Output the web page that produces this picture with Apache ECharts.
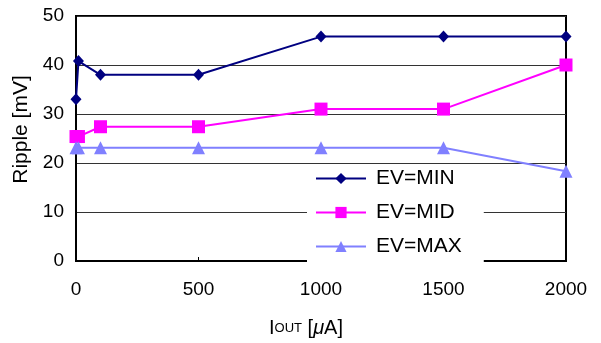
<!DOCTYPE html>
<html><head><meta charset="utf-8">
<script src="https://cdn.jsdelivr.net/npm/echarts@6/dist/echarts.min.js"></script>
<style>html,body{margin:0;padding:0;background:#fff}#c{width:601px;height:343px}</style>
</head><body><div id="c"></div>
<script>
const xValues = [0, 10, 100, 500, 1000, 1500, 2000];
const evMin = [33.0, 40.8, 38.0, 38.0, 45.8, 45.8, 45.8];
const evMid = [25.4, 25.4, 27.4, 27.4, 31.0, 31.0, 40.0];
const evMax = [23.1, 23.1, 23.1, 23.1, 23.1, 23.1, 18.3];
const seriesNames = ['EV=MIN', 'EV=MID', 'EV=MAX'];
const font = 'Liberation Sans, Arial, sans-serif';

const pair = arr => xValues.map((x, i) => [x, arr[i]]);
const chart = echarts.init(document.getElementById('c'));
chart.setOption({
  animation: false,
  backgroundColor: '#fff',
  grid: { left: 76, top: 16, right: 35, bottom: 76, show: true, borderColor: '#000', borderWidth: 2, backgroundColor: 'transparent' },
  xAxis: {
    type: 'value', min: 0, max: 2000, interval: 500,
    axisLine: { show: true, lineStyle: { color: '#000', width: 2 } },
    axisTick: { show: true, inside: true, length: 4, lineStyle: { color: '#000', width: 1 } },
    axisLabel: { color: '#000', fontSize: 19, fontFamily: font, margin: 19, formatter: v => String(v) },
    splitLine: { show: false },
    name: '{a|I}{b|OUT}{a| [}{c|μ}{a|A]}',
    nameLocation: 'middle', nameGap: 57,
    nameTextStyle: {
      padding: [0, 30, 0, 0],
      rich: {
        a: { fontSize: 20, fontFamily: font, color: '#000' },
        b: { fontSize: 13, fontFamily: font, color: '#000' },
        c: { fontSize: 20, fontFamily: font, color: '#000', fontStyle: 'italic' }
      }
    }
  },
  yAxis: {
    type: 'value', min: 0, max: 50, interval: 10,
    axisLine: { show: true, lineStyle: { color: '#000', width: 2 } },
    axisTick: { show: false },
    axisLabel: { color: '#000', fontSize: 19, fontFamily: font, margin: 12 },
    splitLine: { show: true, lineStyle: { color: '#333', width: 1 } },
    name: 'Ripple [mV]', nameLocation: 'middle', nameGap: 43,
    nameTextStyle: { color: '#000', fontSize: 21, fontFamily: font, padding: [0, 0, 0, 18] }
  },
  legend: {
    orient: 'vertical', left: 307, top: 165,
    backgroundColor: '#fff', padding: [3, 22, 5, 8],
    itemWidth: 50, itemHeight: 14, itemGap: 13,
    textStyle: { color: '#000', fontSize: 21, fontFamily: font, lineHeight: 20, padding: [0, 0, 0, 5] },
    data: seriesNames
  },
  series: [
    { name: seriesNames[0], type: 'line', data: pair(evMin), color: '#000080', symbol: 'diamond', symbolSize: [11, 12], lineStyle: { width: 2 }, itemStyle: { color: '#000080' } },
    { name: seriesNames[1], type: 'line', data: pair(evMid), color: '#FF00FF', symbol: 'rect', symbolSize: 13, lineStyle: { width: 2 }, itemStyle: { color: '#FF00FF' } },
    { name: seriesNames[2], type: 'line', data: pair(evMax), color: '#8080FF', symbol: 'triangle', symbolSize: 13, lineStyle: { width: 2 }, itemStyle: { color: '#8080FF' } }
  ]
});
</script></body></html>
